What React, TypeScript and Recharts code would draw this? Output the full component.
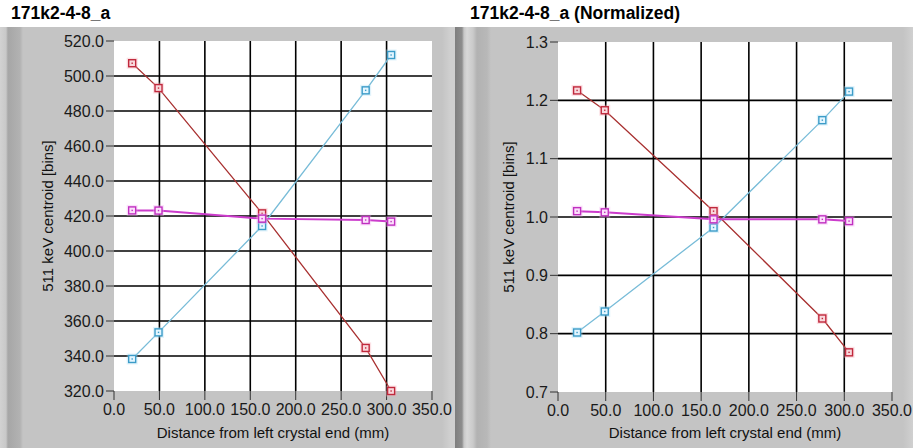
import React from 'react';
import { LineChart, Line, XAxis, YAxis, CartesianGrid, ReferenceLine } from 'recharts';

const distances = [20, 49, 163, 277, 305];
const redRaw = [507.3, 493.1, 421.5, 344.6, 320.0];
const cyanRaw = [338.3, 353.5, 414.3, 491.8, 512.0];
const magentaRaw = [423.2, 423.1, 418.5, 417.7, 416.8];
const redNorm = [1.217, 1.183, 1.01, 0.826, 0.768];
const cyanNorm = [0.802, 0.838, 0.982, 1.166, 1.215];
const magentaNorm = [1.01, 1.008, 0.996, 0.996, 0.993];
const xTicks = [0, 50, 100, 150, 200, 250, 300, 350];
const rawYTicks = [320, 340, 360, 380, 400, 420, 440, 460, 480, 500, 520];
const normYTicks = [0.7, 0.8, 0.9, 1.0, 1.1, 1.2, 1.3];
const leftTitle = '171k2-4-8_a';
const rightTitle = '171k2-4-8_a (Normalized)';
const xLabel = 'Distance from left crystal end (mm)';
const yLabel = '511 keV centroid [bins]';

const FONT = '"Liberation Sans", Arial, Helvetica, sans-serif';

const makeDot = (stroke: string, fill: string, halo: string) => (props: any) => {
  const { cx, cy, index } = props;
  if (cx == null || cy == null) return <g key={`n-${index}`} />;
  return (
    <g key={`d-${index}`}>
      <rect x={cx - 5.5} y={cy - 5.5} width={11} height={11} fill={halo} fillOpacity={0.35} stroke="none" />
      <rect x={cx - 3.5} y={cy - 3.5} width={7} height={7} fill={fill} stroke={stroke} strokeWidth={1.4} />
      <rect x={cx - 0.7} y={cy - 0.7} width={1.4} height={1.4} fill={stroke} />
    </g>
  );
};

const redDot = makeDot('#c0283c', '#f8d8dc', '#f7a8b4');
const cyanDot = makeDot('#3c9cc8', '#e4f6ff', '#a8dcf4');
const magDot = makeDot('#c030c0', '#fbe0fb', '#f4a8f4');

interface PanelProps {
  left: number;
  width: number;
  yAxisWidth: number;
  marginTop: number;
  marginRight: number;
  xAxisHeight: number;
  domain: [number, number];
  yTicks: number[];
  red: number[];
  cyan: number[];
  magenta: number[];
  yLabelOffset: number;
}

const Panel = (p: PanelProps) => {
  const data = distances.map((d, i) => ({ x: d, red: p.red[i], cyan: p.cyan[i], magenta: p.magenta[i] }));
  const tickStyle = { fontSize: 16, fill: '#1a1a1a', fontFamily: FONT };
  return (
    <LineChart
      width={p.width}
      height={448}
      data={data}
      margin={{ top: p.marginTop, right: p.marginRight, bottom: 0, left: 0 }}
      style={{ position: 'absolute', left: p.left, top: 0 }}
    >
      <CartesianGrid fill="#ffffff" horizontal={false} vertical={false} stroke="none" />
      {xTicks.slice(1, -1).map((v) => (
        <ReferenceLine key={`vx-${v}`} x={v} stroke="#000" strokeWidth={1.6} />
      ))}
      {p.yTicks.slice(1, -1).map((v) => (
        <ReferenceLine key={`hy-${v}`} y={v} stroke="#000" strokeWidth={1.6} />
      ))}
      <XAxis
        type="number"
        dataKey="x"
        domain={[0, 350]}
        ticks={xTicks}
        interval={0}
        tickFormatter={(v: number) => v.toFixed(1)}
        axisLine={false}
        tickLine={{ stroke: '#333', strokeWidth: 1 }}
        tickSize={9}
        tickMargin={4}
        height={p.xAxisHeight}
        tick={tickStyle}
        label={{ value: xLabel, position: 'insideBottom', offset: 10, fontSize: 15, fill: '#111', fontFamily: FONT }}
      />
      <YAxis
        type="number"
        domain={p.domain}
        ticks={p.yTicks}
        interval={0}
        tickFormatter={(v: number) => v.toFixed(1)}
        axisLine={false}
        tickLine={{ stroke: '#333', strokeWidth: 1 }}
        tickSize={8}
        tickMargin={2}
        width={p.yAxisWidth}
        tick={tickStyle}
        label={{
          value: yLabel,
          angle: -90,
          position: 'insideLeft',
          offset: p.yLabelOffset,
          fontSize: 15,
          fill: '#111',
          fontFamily: FONT,
          style: { textAnchor: 'middle' },
        }}
      />
      <Line type="linear" dataKey="red" stroke="#a83030" strokeWidth={1.3} dot={redDot} isAnimationActive={false} />
      <Line type="linear" dataKey="cyan" stroke="#78bcd8" strokeWidth={1.3} dot={cyanDot} isAnimationActive={false} />
      <Line type="linear" dataKey="magenta" stroke="#cc3ccc" strokeWidth={2} dot={magDot} isAnimationActive={false} />
    </LineChart>
  );
};

export default function App() {
  const titleStyle: React.CSSProperties = {
    position: 'absolute',
    top: 5,
    fontFamily: FONT,
    fontWeight: 'bold',
    fontSize: 17.5,
    lineHeight: '17.5px',
    color: '#000',
    whiteSpace: 'nowrap',
  };
  return (
    <div
      style={{
        position: 'absolute',
        left: 0,
        top: 0,
        width: 913,
        height: 448,
        background: '#ffffff',
        overflow: 'hidden',
        fontFamily: FONT,
      }}
    >
      <div
        style={{
          position: 'absolute',
          left: 0,
          top: 27,
          width: 455,
          height: 421,
          background:
            'linear-gradient(to right, #d2d2d2 0px, #c8c8c8 6px, #a6a6a6 8px, #b2b2b2 20px, #c4c4c4 23px, #c4c4c4 442px, #cfcfcf 450px, #cfcfcf 455px)',
        }}
      />
      <div
        style={{
          position: 'absolute',
          left: 455,
          top: 27,
          width: 12,
          height: 421,
          background: 'linear-gradient(to right, #7e7e7e 0px, #8e8e8e 7px, #c8c8c8 9px, #d8d8d8 12px)',
        }}
      />
      <div
        style={{
          position: 'absolute',
          left: 467,
          top: 27,
          width: 446,
          height: 421,
          background:
            'linear-gradient(to right, #d8d8d8 0px, #cacaca 6px, #b2b2b2 10px, #b8b8b8 20px, #c4c4c4 24px, #c4c4c4 436px, #d0d0d0 446px)',
        }}
      />
      <div style={{ ...titleStyle, left: 11 }}>{leftTitle}</div>
      <div style={{ ...titleStyle, left: 470 }}>{rightTitle}</div>
      <Panel
        left={0}
        width={455}
        yAxisWidth={114}
        marginTop={41}
        marginRight={23}
        xAxisHeight={57}
        domain={[320, 520]}
        yTicks={rawYTicks}
        red={redRaw}
        cyan={cyanRaw}
        magenta={magentaRaw}
        yLabelOffset={48}
      />
      <Panel
        left={455}
        width={458}
        yAxisWidth={103}
        marginTop={42}
        marginRight={21}
        xAxisHeight={56}
        domain={[0.7, 1.3]}
        yTicks={normYTicks}
        red={redNorm}
        cyan={cyanNorm}
        magenta={magentaNorm}
        yLabelOffset={54}
      />
    </div>
  );
}
